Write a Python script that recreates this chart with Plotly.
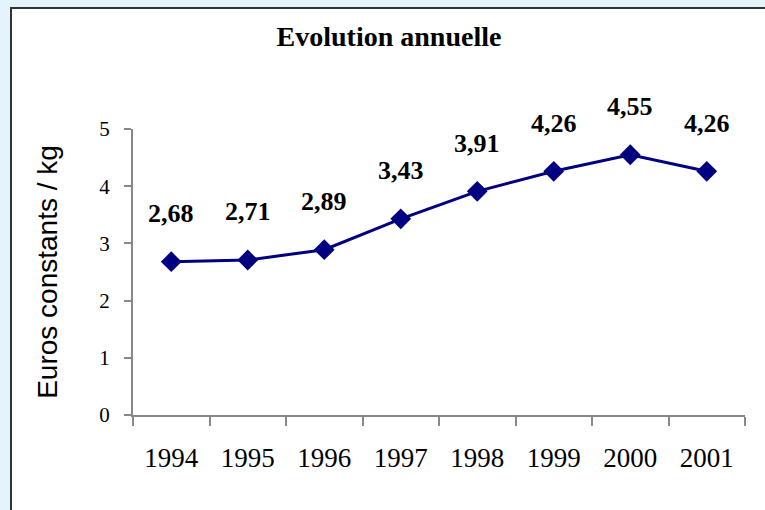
import plotly.graph_objects as go

years = ["1994", "1995", "1996", "1997", "1998", "1999", "2000", "2001"]
values = [2.68, 2.71, 2.89, 3.43, 3.91, 4.26, 4.55, 4.26]
labels = ["2,68", "2,71", "2,89", "3,43", "3,91", "4,26", "4,55", "4,26"]
y_ticks = [0, 1, 2, 3, 4, 5]

W, H = 765, 510
L, R, T, B = 133, 20, 129, 95
pw, ph = W - L - R, H - T - B

def px_x(p):
    return (p - L) / pw

def px_y(p):
    return (H - B - p) / ph

fig = go.Figure()
fig.add_trace(go.Scatter(
    x=years, y=values, mode="lines+markers",
    line=dict(color="#000080", width=3),
    marker=dict(symbol="diamond", size=16, color="#000080"),
    showlegend=False, hoverinfo="skip",
))

for i, (v, lab) in enumerate(zip(values, labels)):
    fig.add_annotation(
        x=i, y=v, xref="x", yref="y", text=lab, showarrow=False, yshift=48,
        font=dict(family="Liberation Serif", size=26, color="black", weight="bold"),
    )

fig.add_shape(
    type="rect", xref="paper", yref="paper",
    x0=px_x(11), x1=px_x(790), y0=px_y(530), y1=px_y(8),
    fillcolor="white", line=dict(color="#333333", width=2), layer="below",
)

fig.update_layout(
    width=W, height=H,
    margin=dict(l=L, r=R, t=T, b=B, autoexpand=False),
    paper_bgcolor="#E3F4FD",
    plot_bgcolor="rgba(0,0,0,0)",
    title=dict(
        text="Evolution annuelle", x=389 / W, xref="container", xanchor="center",
        y=1 - 36 / H, yref="container", yanchor="middle",
        font=dict(family="Liberation Serif", size=28, color="black", weight="bold"),
    ),
    xaxis=dict(
        type="category", range=[-0.5, 7.5], tickson="boundaries",
        showline=True, linecolor="#888888", linewidth=2,
        ticks="outside", ticklen=9, tickwidth=2, tickcolor="#888888",
        showgrid=False, zeroline=False, ticklabelstandoff=18,
        tickfont=dict(family="Liberation Serif", size=27, color="black"),
    ),
    yaxis=dict(
        range=[0, 5], tickvals=y_ticks, ticktext=[str(t) for t in y_ticks],
        showline=True, linecolor="#888888", linewidth=2,
        ticks="outside", ticklen=7, tickwidth=2, tickcolor="#888888",
        showgrid=False, zeroline=False, ticklabelstandoff=10,
        tickfont=dict(family="Liberation Serif", size=21, color="black"),
        title=dict(text="Euros constants / kg", standoff=33,
                   font=dict(family="Liberation Sans", size=28, color="black")),
    ),
)

fig.write_html(
    "out.html",
    config={"displayModeBar": False},
    post_script="document.body.style.margin='0px';document.body.style.background='#E3F4FD';",
)
